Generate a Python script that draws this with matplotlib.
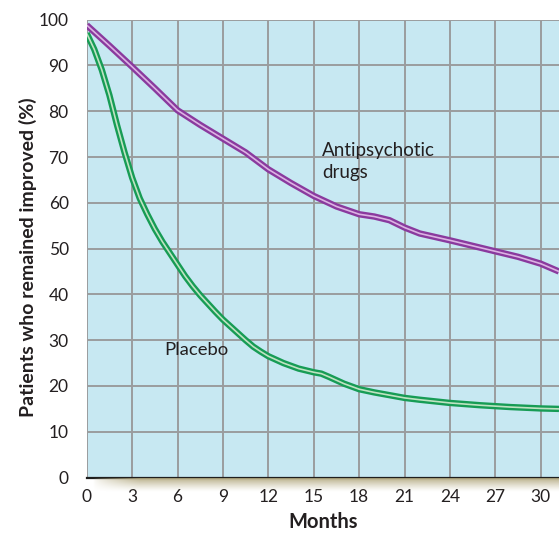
import numpy as np
import matplotlib
matplotlib.use("Agg")
import matplotlib.pyplot as plt

plt.rcParams['font.family'] = ['Lato', 'DejaVu Sans']

# Relapse data: share of patients who remained improved, by month
antipsychotic_months = [0, 1.5, 3, 4.5, 6, 7.5, 9, 10.5, 12, 13.5, 15, 16.5, 18,
                        19, 20, 21, 22, 24, 25.5, 27, 28.5, 30, 31.2]
antipsychotic_pct = [98.8, 94.3, 89.7, 85.0, 80.2, 77.0, 74.0, 71.0, 67.3, 64.3,
                     61.5, 59.2, 57.5, 57.0, 56.2, 54.6, 53.3, 51.8, 50.6, 49.4,
                     48.2, 46.7, 45.0]

placebo_months = [0, 0.5, 1, 1.5, 2, 2.5, 3, 3.5, 4, 4.5, 5, 5.5, 6, 6.5, 7, 7.5,
                  8, 8.5, 9, 9.5, 10, 10.5, 11, 11.5, 12, 13, 14, 15, 15.5, 16, 17,
                  18, 19, 20, 21, 22, 24, 26, 28, 30, 31.2]
placebo_pct = [97.0, 93.5, 89.0, 83.5, 77.0, 71.0, 65.5, 61.0, 57.5, 54.3, 51.5,
               49.0, 46.5, 44.0, 41.8, 39.8, 38.0, 36.2, 34.5, 33.0, 31.5, 30.0,
               28.6, 27.5, 26.5, 25.0, 23.8, 23.0, 22.7, 22.0, 20.5, 19.3, 18.6,
               18.0, 17.4, 17.0, 16.3, 15.8, 15.4, 15.1, 15.0]

x_ticks = [0, 3, 6, 9, 12, 15, 18, 21, 24, 27, 30]
y_ticks = [0, 10, 20, 30, 40, 50, 60, 70, 80, 90, 100]

text_color = "#231f20"
bg_color = "#c7e8f2"
grid_color = "#9a9c9e"

fig = plt.figure(figsize=(5.59, 5.36), dpi=100)
fig.patch.set_facecolor("white")

ax = fig.add_axes([86.7 / 559, 58.4 / 536, 1 - 86.7 / 559, 458 / 536])
ax.set_facecolor(bg_color)
ax.set_xlim(0, 31.2)
ax.set_ylim(0, 100)

# soft beige shadow under the baseline
shadow_ax = fig.add_axes([92 / 559, (536 - 492) / 536, 1 - 92 / 559, 14 / 536])
h, w = 40, 200
yy = np.linspace(1, 0, h)[:, None]
xx = np.linspace(0, 1, w)[None, :]
alpha = (yy ** 1.3) * np.clip(xx / 0.1, 0, 1) ** 0.7
img = np.zeros((h, w, 4))
img[..., 0] = 0.70
img[..., 1] = 0.66
img[..., 2] = 0.50
img[..., 3] = alpha
shadow_ax.imshow(img, aspect="auto", extent=[0, 1, 0, 1], interpolation="bilinear")
shadow_ax.set_xlim(0, 1)
shadow_ax.set_ylim(0, 1)
shadow_ax.axis("off")

ax.set_xticks(x_ticks)
ax.set_yticks(y_ticks)
ax.set_xticklabels([str(t) for t in x_ticks])
ax.set_yticklabels([str(t) for t in y_ticks])
ax.grid(True, color=grid_color, linewidth=1.4, zorder=1)
ax.set_axisbelow(True)
ax.tick_params(axis="both", length=0, labelsize=12.5, colors=text_color)
ax.tick_params(axis="y", pad=13)
ax.tick_params(axis="x", pad=8)

for side in ["top", "right", "left"]:
    ax.spines[side].set_visible(False)
ax.spines["bottom"].set_color("#1e1e1e")
ax.spines["bottom"].set_linewidth(1.6)
ax.spines["bottom"].set_zorder(5)


def tube(x, y, dark, light):
    ax.plot(x, y, color=dark, linewidth=4.6, solid_capstyle="butt",
            solid_joinstyle="round", zorder=3)
    ax.plot(x, y, color=light, linewidth=1.2, solid_capstyle="butt",
            solid_joinstyle="round", zorder=4)


tube(antipsychotic_months, antipsychotic_pct, "#8a3a9e", "#dcb2e4")
tube(placebo_months, placebo_pct, "#179c55", "#bfe3c2")

ax.text(15.55, 69.0, "Antipsychotic\ndrugs", fontsize=13.5, color=text_color,
        ha="left", va="center", linespacing=1.38, zorder=6)
ax.text(5.1, 27.9, "Placebo", fontsize=13.3, color=text_color,
        ha="left", va="center", zorder=6)

ax.set_xlabel("Months", fontsize=14.5, fontweight="bold", color=text_color)
ax.set_ylabel("Patients who remained improved (%)", fontsize=14.0,
              fontweight="bold", color=text_color)
ax.xaxis.set_label_coords(0.501, -0.097)
ax.yaxis.set_label_coords(-0.125, 0.482)
ax.xaxis.label.set_va("center")
ax.yaxis.label.set_va("center")

fig.savefig("out.png", dpi=100, facecolor="white")
